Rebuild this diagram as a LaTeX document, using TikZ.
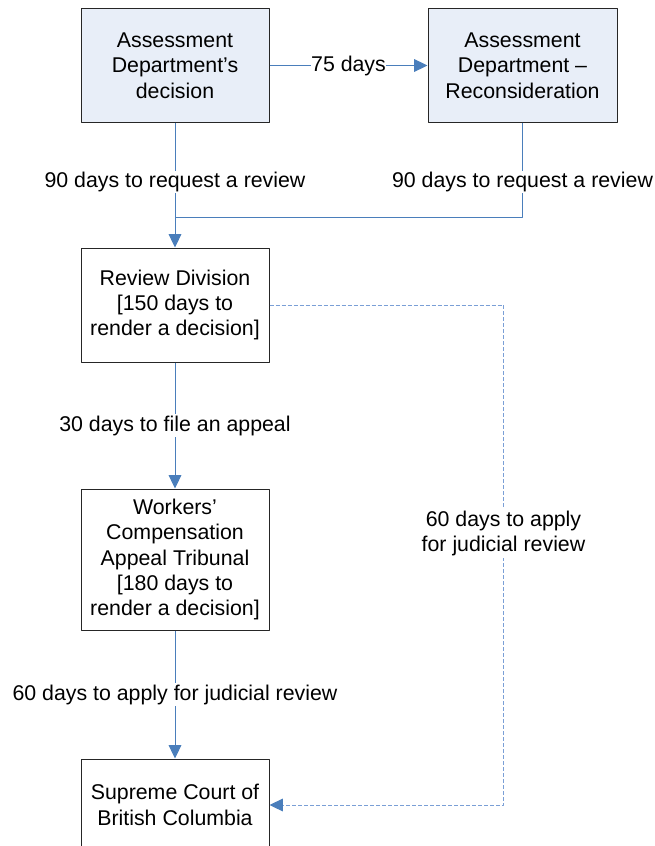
\documentclass[tikz,border=0pt]{standalone}
\usepackage{fontspec}
\setmainfont{Liberation Sans}
\usetikzlibrary{arrows.meta}
\definecolor{linkblue}{HTML}{4A7EBB}
\definecolor{dashblue}{HTML}{7A9FD6}
\definecolor{boxfill}{HTML}{E8EEF8}
\begin{document}
\begin{tikzpicture}[x=0.75pt, y=-0.75pt, font=\fontsize{16}{19.1}\selectfont, line join=round,
	box/.style={draw=black!85, line width=0.75pt, minimum width=141pt, align=center, inner sep=0pt},
	shaded/.style={box, fill=boxfill},
	link/.style={draw=linkblue, line width=0.75pt, -{Triangle[length=10pt,width=9.5pt]}},
	dlink/.style={link, draw=dashblue, dash pattern=on 3pt off 1.5pt, -{Triangle[length=10pt,width=9.5pt,color=linkblue]}},
	lbl/.style={fill=white, inner sep=1pt, align=center}]
	\useasboundingbox (0,0) rectangle (655,846);
	% boxes
	\node[shaded, minimum height=85pt] (decision) at (175,65.5) {Assessment\\Department’s\\decision};
	\node[shaded, minimum height=85pt, minimum width=141.75pt] (recon) at (522.5,65.5) {Assessment\\Department –\\Reconsideration};
	\node[box, minimum height=85.5pt] (review) at (175,305) {Review Division\\{[}150 days to\\render a decision{]}};
	\node[box, minimum height=105.75pt] (wcat) at (175,559.5) {Workers’\\Compensation\\Appeal Tribunal\\{[}180 days to\\render a decision{]}};
	\node[box, minimum height=69pt] (court) at (175,805) {Supreme Court of\\British Columbia};
	\coordinate (join) at (175,217);
	% connectors
	\draw[link] (decision) -- node[lbl, inner sep=0pt] (l75) {75 days} (recon);
	\draw[link] (decision) -- node[lbl, pos=0.476] (lreq) {90 days to request a review} (review);
	\draw[link, -] (recon) -- node[lbl, pos=0.63] (lreqr) {90 days to request a review} (recon.south |- join) -- (join);
	\draw[link] (review) -- node[lbl] (lappeal) {30 days to file an appeal} (wcat);
	\draw[link] (wcat) -- node[lbl] (ljud) {60 days to apply for judicial review} (court);
	\draw[dlink] (review.east) -- ++(234,0) coordinate (dtop)
		-- node[lbl, pos=0.457] (ljud2) {60 days to apply\\for judicial review} (dtop |- court.east)
		-- (court.east);
\end{tikzpicture}
\end{document}
